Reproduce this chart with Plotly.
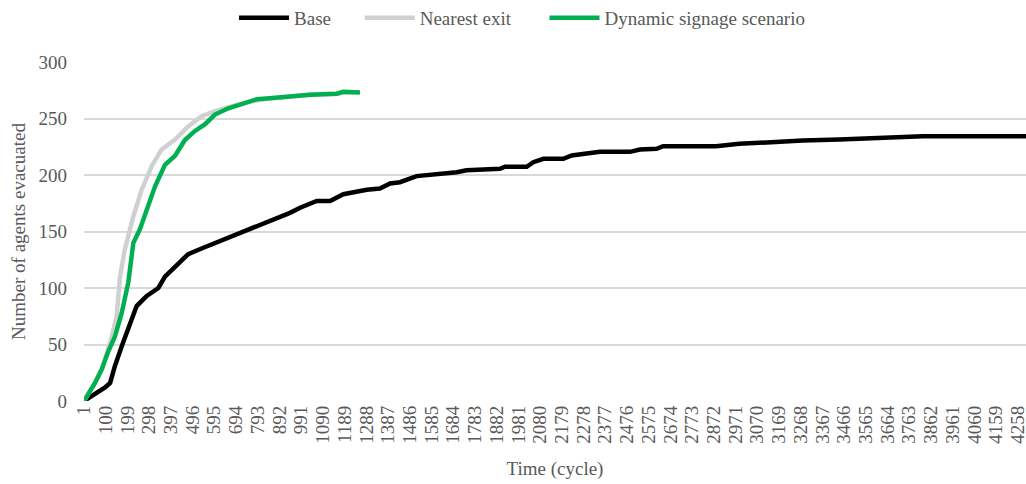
import plotly.graph_objects as go

# ---- data ----
base_cycle = [1, 51, 97, 120, 142, 173, 211, 241, 287, 340, 370, 416, 476, 537, 613, 689, 758, 849,
              940, 986, 1062, 1123, 1183, 1290, 1350, 1396, 1441, 1517, 1608, 1700, 1745, 1897, 1920,
              2019, 2049, 2095, 2186, 2224, 2292, 2353, 2490, 2535, 2611, 2641, 2854, 2882, 2988,
              3125, 3277, 3444, 3641, 3824, 4295]
base_vals = [0, 6, 12, 16, 31, 48.5, 69, 84, 93, 100, 110, 119, 130, 135, 141, 147, 152, 159,
             166.5, 171, 177, 177, 183, 187, 188, 192.5, 193.6, 199, 200.4, 202.5, 204.2, 205.5, 207.3,
             207.3, 211.3, 214.3, 214.3, 217.3, 219, 220.5, 220.5, 222.6, 223.2, 225.5, 225.5, 225.5, 227.6,
             229.4, 230.5, 231.4, 232.6, 234.3, 234.3]

nearest_cycle = [1, 51, 82, 112, 124, 150, 165, 187, 226, 264, 310, 355, 416, 476, 537, 598, 659,
                 735, 849, 940, 1031, 1153, 1183, 1230]
nearest_vals = [0, 16, 28, 46, 54, 75, 110, 134, 163.5, 187, 208, 222.6, 231.4, 243, 252, 256.5, 259.5,
                264, 268, 269.5, 271, 272, 273, 273]

dynamic_cycle = [1, 51, 82, 112, 142, 173, 203, 226, 256, 287, 325, 370, 416, 461, 507, 553, 598,
                 659, 735, 788, 849, 940, 1031, 1153, 1183, 1259]
dynamic_vals = [0, 16, 28, 44, 57, 78, 105, 140, 152, 169, 190, 209, 217, 231, 239, 245, 253.5,
                259, 264, 267, 268, 269.7, 271, 272, 273.6, 273]

series_names = ["Base", "Nearest exit", "Dynamic signage scenario"]
x_ticks = list(range(1, 4259, 99))
y_ticks = [0, 50, 100, 150, 200, 250, 300]

FONT = "Liberation Serif"
TXT = "#595959"
NB = "\u00a0"

fig = go.Figure()
fig.add_trace(go.Scatter(x=base_cycle, y=base_vals, mode="lines", name=series_names[0] + NB * 5,
                         line=dict(color="#000000", width=4.5)))
fig.add_trace(go.Scatter(x=nearest_cycle, y=nearest_vals, mode="lines", name=series_names[1] + NB * 6,
                         line=dict(color="#d0d0d0", width=4.5)))
fig.add_trace(go.Scatter(x=dynamic_cycle, y=dynamic_vals, mode="lines", name=series_names[2],
                         line=dict(color="#00b050", width=4.5)))

fig.update_layout(
    width=1026, height=484,
    margin=dict(l=84, r=0, t=62, b=83, autoexpand=False),
    paper_bgcolor="white", plot_bgcolor="white",
    font=dict(family=FONT, size=19, color=TXT),
    showlegend=True,
    legend=dict(orientation="h", x=0.465, xanchor="center", y=1.13, yanchor="middle",
                itemwidth=50,
                font=dict(family=FONT, size=19, color=TXT), bgcolor="rgba(0,0,0,0)"),
)
fig.update_xaxes(
    range=[1, 4295], tickmode="array", tickvals=x_ticks, ticktext=[str(t) for t in x_ticks],
    tickangle=-90, showgrid=False, zeroline=False, showline=False, ticks="", automargin=False,
    ticklabeloverflow="allow",
    tickfont=dict(family=FONT, size=19, color=TXT),
    title=dict(text="Time (cycle)", font=dict(family=FONT, size=19, color=TXT), standoff=18),
)
fig.update_yaxes(
    range=[0, 300], tickmode="array", tickvals=y_ticks, showgrid=True, gridcolor="#d9d9d9",
    gridwidth=1.5, zeroline=False, showline=False, ticks="", ticklabelstandoff=16, automargin=False,
    tickfont=dict(family=FONT, size=19, color=TXT),
    title=dict(text="Number of agents evacuated", font=dict(family=FONT, size=19, color=TXT), standoff=7),
)

fig.write_html("out.html", config={"displayModeBar": False},
               post_script="document.body.style.margin='0';")
